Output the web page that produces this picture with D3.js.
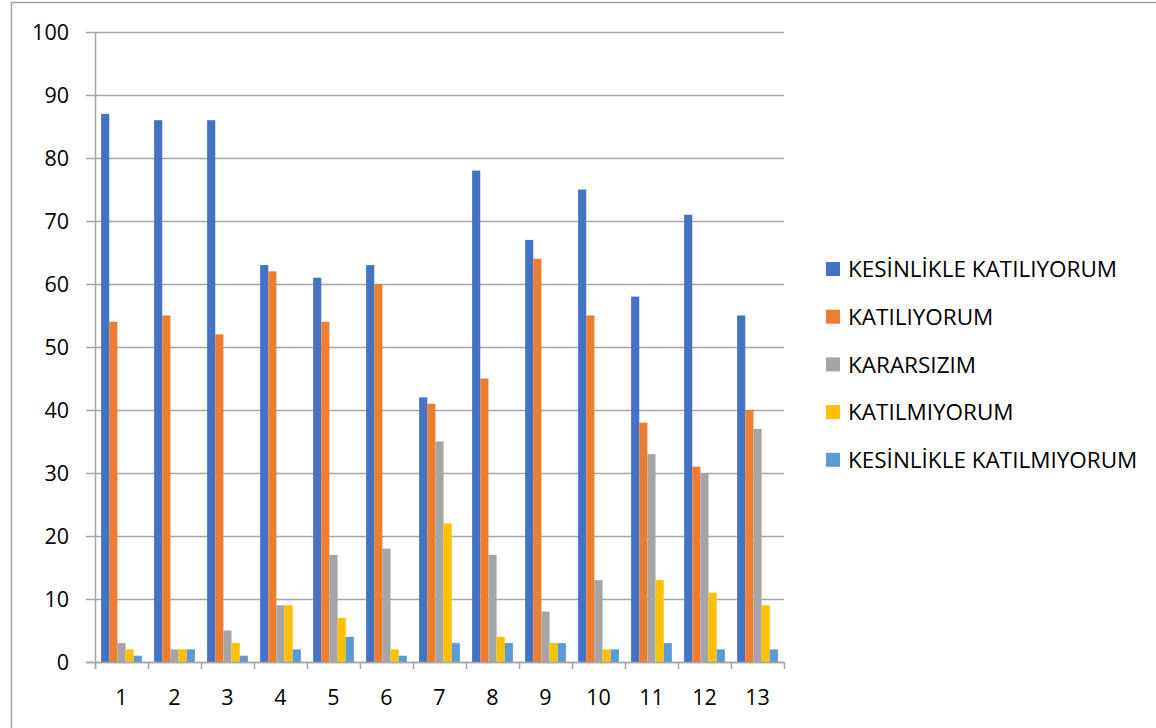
<!DOCTYPE html>
<meta charset="utf-8">
<script src="https://d3js.org/d3.v7.min.js"></script>
<style>
  body { margin: 0; background: #fff; }
  text { font-family: "Open Sans", "Liberation Sans", sans-serif; fill: #000; }
</style>
<div id="my_dataviz"></div>
<script>
// categories and series
var categories = ["1","2","3","4","5","6","7","8","9","10","11","12","13"];
var seriesNames = ["KESİNLİKLE KATILIYORUM", "KATILIYORUM", "KARARSIZIM", "KATILMIYORUM", "KESİNLİKLE KATILMIYORUM"];
var kesinlikleKatiliyorum = [87, 86, 86, 63, 61, 63, 42, 78, 67, 75, 58, 71, 55];
var katiliyorum           = [54, 55, 52, 62, 54, 60, 41, 45, 64, 55, 38, 31, 40];
var kararsizim            = [3, 2, 5, 9, 17, 18, 35, 17, 8, 13, 33, 30, 37];
var katilmiyorum          = [2, 2, 3, 9, 7, 2, 22, 4, 3, 2, 13, 11, 9];
var kesinlikleKatilmiyorum = [1, 2, 1, 2, 4, 1, 3, 3, 3, 2, 3, 2, 2];
var yTicks = [0, 10, 20, 30, 40, 50, 60, 70, 80, 90, 100];
var colors = ["#4472C4", "#ED7D31", "#A5A5A5", "#FFC000", "#5B9BD5"];

var allSeries = [kesinlikleKatiliyorum, katiliyorum, kararsizim, katilmiyorum, kesinlikleKatilmiyorum];

var W = 1156, H = 728;
var margin = {top: 32, left: 95, right: 372, bottom: 66};
var width = W - margin.left - margin.right,
    height = H - margin.top - margin.bottom;

var svg = d3.select("#my_dataviz")
  .append("svg")
    .attr("width", W)
    .attr("height", H);

// outer chart border
svg.append("path")
  .attr("d", "M11.5," + H + "V2.5H" + W)
  .attr("fill", "none")
  .attr("stroke", "#a0a0a0")
  .attr("stroke-width", 1.5);

var g = svg.append("g")
  .attr("transform", "translate(" + margin.left + "," + margin.top + ")");

var x0 = d3.scaleBand()
  .domain(categories)
  .range([0, width])
  .paddingInner(0)
  .paddingOuter(0);

// gap width 150%: bars take 5 / 6.5 of category
var bw = x0.bandwidth() / 6.5;
var x1 = d3.scaleBand()
  .domain(d3.range(seriesNames.length))
  .range([bw * 0.75, x0.bandwidth() - bw * 0.75]);

var y = d3.scaleLinear()
  .domain([0, 100])
  .range([height, 0]);

// gridlines
g.append("g")
  .selectAll("line")
  .data(yTicks)
  .join("line")
    .attr("x1", -9)
    .attr("x2", width)
    .attr("y1", function(d) { return Math.round(y(d)) + 0.5; })
    .attr("y2", function(d) { return Math.round(y(d)) + 0.5; })
    .attr("stroke", "#a6a6a6")
    .attr("stroke-width", 1.5);

// y labels
g.append("g")
  .selectAll("text")
  .data(yTicks)
  .join("text")
    .attr("x", -26)
    .attr("y", function(d) { return y(d); })
    .attr("dy", "0.36em")
    .attr("text-anchor", "end")
    .attr("font-size", 21.5)
    .text(function(d) { return d; });

// y axis line
g.append("line")
  .attr("x1", 0.5).attr("x2", 0.5)
  .attr("y1", 0).attr("y2", height + 7)
  .attr("stroke", "#a6a6a6")
  .attr("stroke-width", 1.5);

// bars
var groups = g.append("g")
  .selectAll("g")
  .data(categories)
  .join("g")
    .attr("transform", function(d) { return "translate(" + x0(d) + ",0)"; });

groups.selectAll("rect")
  .data(function(d, i) { return allSeries.map(function(s, k) { return {k: k, v: s[i]}; }); })
  .join("rect")
    .attr("x", function(d) { return x1(d.k); })
    .attr("width", x1.bandwidth())
    .attr("y", function(d) { return y(d.v); })
    .attr("height", function(d) { return height - y(d.v); })
    .attr("fill", function(d) { return colors[d.k]; });

// x axis line and ticks
g.append("line")
  .attr("x1", -9).attr("x2", width)
  .attr("y1", height + 0.5).attr("y2", height + 0.5)
  .attr("stroke", "#a6a6a6")
  .attr("stroke-width", 1.5);

g.append("g")
  .selectAll("line")
  .data(d3.range(categories.length + 1))
  .join("line")
    .attr("x1", function(i) { return Math.round(i * x0.bandwidth()) + 0.5; })
    .attr("x2", function(i) { return Math.round(i * x0.bandwidth()) + 0.5; })
    .attr("y1", height)
    .attr("y2", height + 7)
    .attr("stroke", "#a6a6a6")
    .attr("stroke-width", 1.5);

g.append("g")
  .selectAll("text")
  .data(categories)
  .join("text")
    .attr("x", function(d) { return x0(d) + x0.bandwidth() / 2; })
    .attr("y", height + 43)
    .attr("text-anchor", "middle")
    .attr("font-size", 21.5)
    .text(function(d) { return d; });

// legend
var legend = svg.append("g")
  .attr("transform", "translate(826,269)");

var items = legend.selectAll("g")
  .data(seriesNames)
  .join("g")
    .attr("transform", function(d, i) { return "translate(0," + (i * 47.7) + ")"; });

items.append("rect")
  .attr("x", 0)
  .attr("y", -7)
  .attr("width", 14)
  .attr("height", 14)
  .attr("fill", function(d, i) { return colors[i]; });

items.append("text")
  .attr("x", 22)
  .attr("y", 0)
  .attr("dy", "0.36em")
  .attr("font-size", 22.5)
  .text(function(d) { return d; });
</script>
